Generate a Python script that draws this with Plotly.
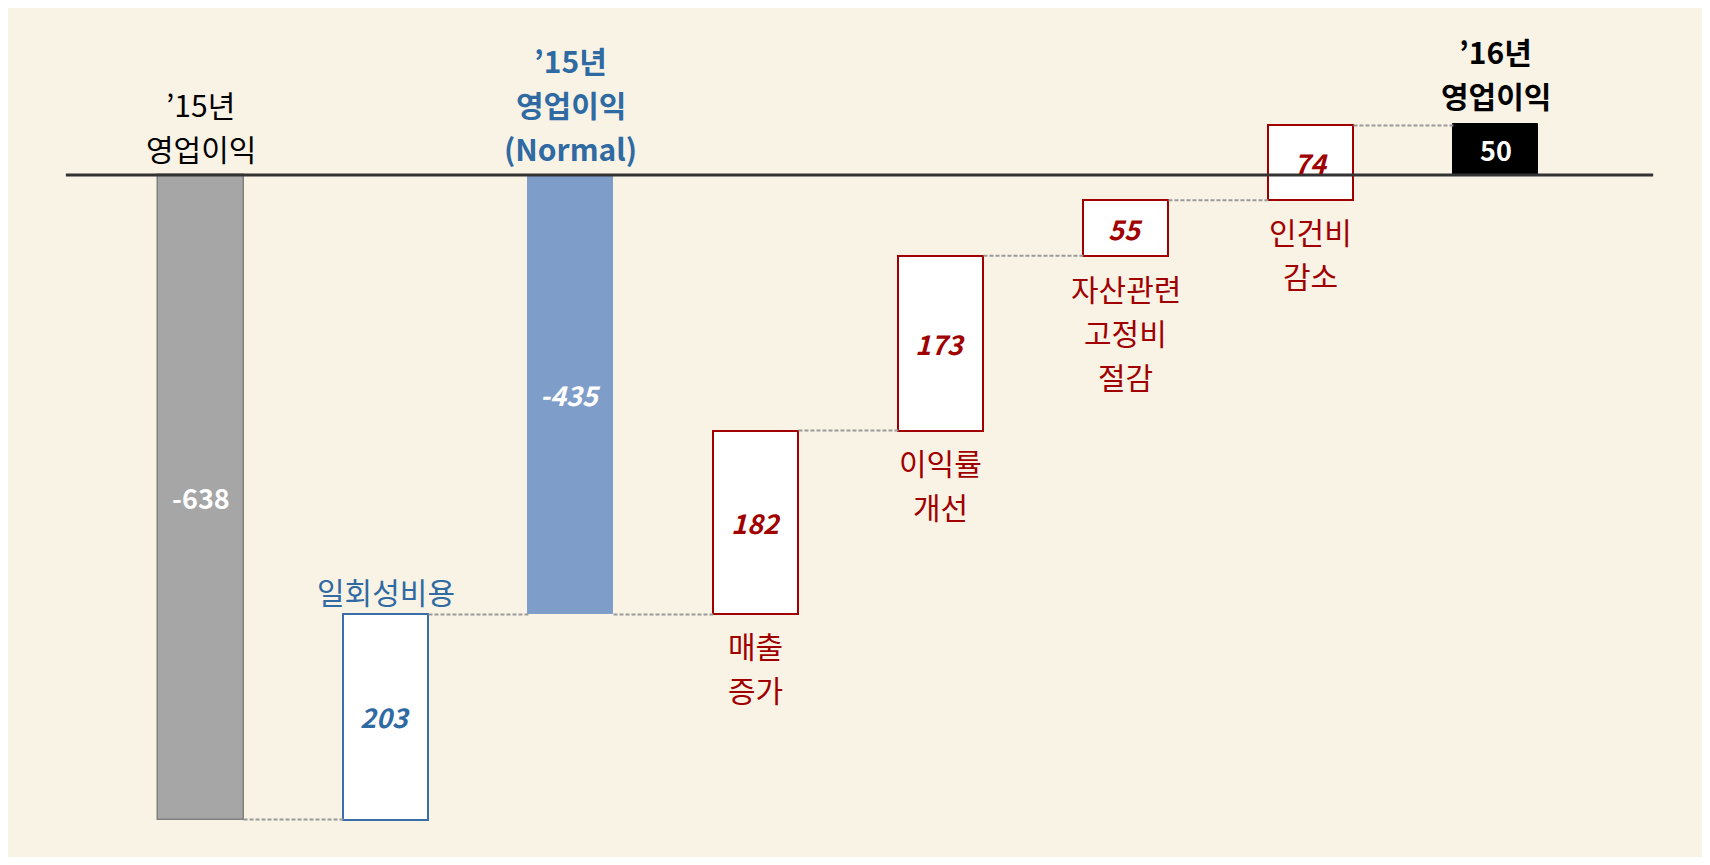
import plotly.graph_objects as go

# ---- data ----
categories = ["’15년 영업이익", "일회성비용", "’15년 영업이익(Normal)", "매출 증가",
              "이익률 개선", "자산관련 고정비 절감", "인건비 감소", "’16년 영업이익"]
values = [-638, 203, -435, 182, 173, 55, 74, 50]
measures = ["total", "relative", "total", "relative", "relative", "relative", "relative", "total"]
value_labels = ["-638", "203", "-435", "182", "173", "55", "74", "50"]
category_lines = [["’15년", "영업이익"], ["일회성비용"], ["’15년", "영업이익", "(Normal)"],
                  ["매출", "증가"], ["이익률", "개선"], ["자산관련", "고정비", "절감"],
                  ["인건비", "감소"], ["’16년", "영업이익"]]
label_side = ["above", "above", "above", "below", "below", "below", "below", "above"]

# ---- styles ----
FONT = "Noto Sans CJK KR"
BEIGE = "#f9f3e6"
RED = "#a00000"
BLUE_T = "#2f6aa3"
fills = ["#a6a6a6", "#ffffff", "#7f9dc9", "#ffffff", "#ffffff", "#ffffff", "#ffffff", "#000000"]
lines = ["#808080", "#3a6ea8", "#7f9dc9", RED, RED, RED, RED, "#000000"]
line_w = [1.5, 2, 1, 2, 2, 2, 2, 1]
num_colors = ["#ffffff", BLUE_T, "#ffffff", RED, RED, RED, RED, "#ffffff"]
num_italic = [False, True, True, True, True, True, True, False]
lab_colors = ["#000000", BLUE_T, BLUE_T, RED, RED, RED, RED, "#000000"]
lab_bold = [False, False, True, False, False, False, False, True]
lab_gap = [27, 23, 27, 31, 31, 32, 31, 29]
LAB_SIZE = 30
LINE_H = 44
BW = 0.46

# waterfall bases
bases, ends = [], []
running = 0
for v, m in zip(values, measures):
    if m == "total":
        bases.append(0)
        running = v
    else:
        bases.append(running)
        running += v
    ends.append(running)

xs = list(range(len(values)))

fig = go.Figure()
fig.add_trace(go.Bar(
    x=xs, y=values, base=bases, width=BW,
    marker=dict(color=fills, line=dict(color=lines, width=line_w)),
    hoverinfo="skip", showlegend=False,
))

# connectors
cx, cy = [], []
for i in range(len(values) - 1):
    lvl = ends[i]
    cx += [i + BW / 2, i + 1 - BW / 2, None]
    cy += [lvl, lvl, None]
fig.add_trace(go.Scatter(x=cx, y=cy, mode="lines",
                         line=dict(color="#9a9a9a", width=2, dash="4px,2px"),
                         hoverinfo="skip", showlegend=False))

# zero line
fig.add_shape(type="line", x0=-0.73, x1=7.85, y0=0, y1=0,
              line=dict(color="#333333", width=3), layer="above")

annotations = []
for i in xs:
    lo = min(bases[i], bases[i] + values[i])
    hi = max(bases[i], bases[i] + values[i])
    t = value_labels[i]
    t = f"<b><i>{t}</i></b>" if num_italic[i] else f"<b>{t}</b>"
    annotations.append(dict(x=i, y=(lo + hi) / 2, text=t, showarrow=False,
                            font=dict(family=FONT, size=27, color=num_colors[i]),
                            xanchor="center", yanchor="middle", borderpad=0))
    ls = category_lines[i]
    n = len(ls)
    for k, line in enumerate(ls):
        txt = f"<b>{line}</b>" if lab_bold[i] else line
        if label_side[i] == "above":
            y = hi
            shift = lab_gap[i] + (n - 1 - k) * LINE_H
        else:
            y = lo
            shift = -(lab_gap[i] + k * LINE_H)
        annotations.append(dict(x=i, y=y, text=txt, showarrow=False, borderpad=0,
                                font=dict(family=FONT, size=LAB_SIZE, color=lab_colors[i]),
                                xanchor="center", yanchor="middle", yshift=shift))

fig.update_layout(
    width=1694, height=849,
    margin=dict(l=0, r=0, t=0, b=0),
    paper_bgcolor=BEIGE, plot_bgcolor=BEIGE,
    xaxis=dict(range=[-1.043, 8.114], visible=False, fixedrange=True),
    yaxis=dict(range=[-675.1, 165.3], visible=False, fixedrange=True),
    annotations=annotations,
    font=dict(family=FONT),
    bargap=0,
)

fig.write_html("out.html")
